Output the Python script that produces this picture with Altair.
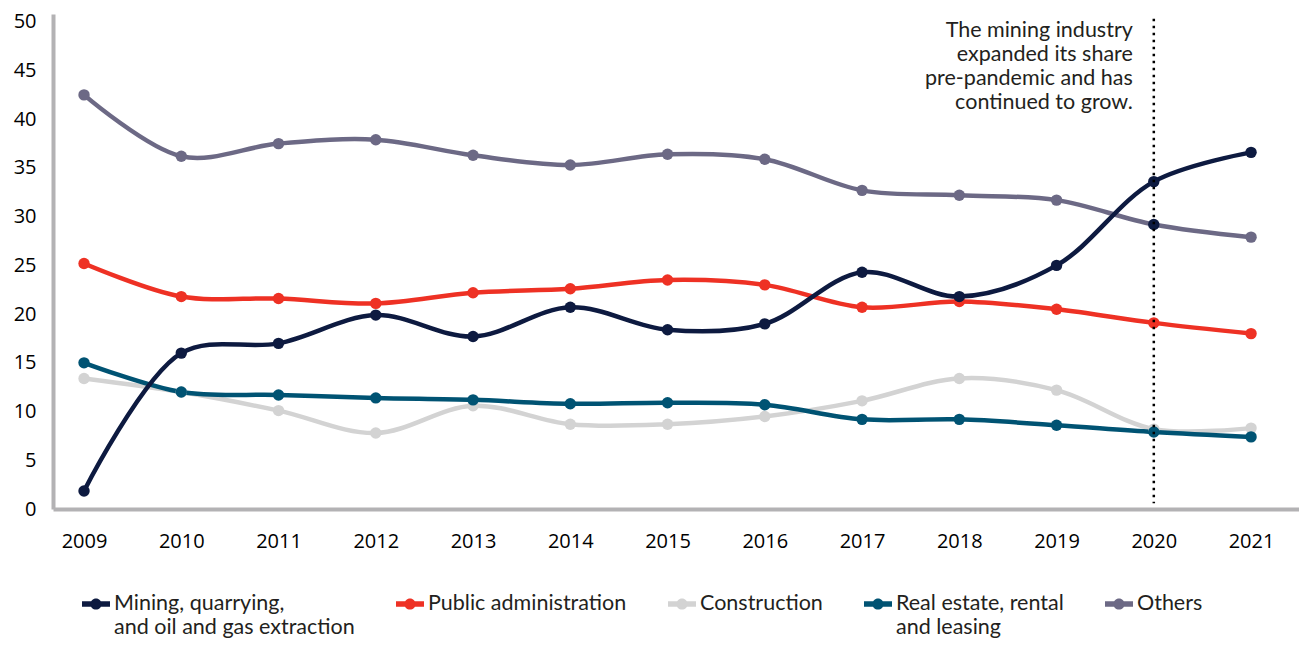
import altair as alt
import pandas as pd

years = list(range(2009, 2022))
series_names = [
    "Mining, quarrying, and oil and gas extraction",
    "Public administration",
    "Construction",
    "Real estate, rental and leasing",
    "Others",
]
series_colors = ["#0d1a40", "#ee3124", "#d3d3d3", "#005373", "#6c6985"]

mining = [1.85, 16.0, 17.0, 19.9, 17.7, 20.7, 18.4, 19.0, 24.3, 21.8, 25.0, 33.6, 36.6]
public_admin = [25.2, 21.8, 21.6, 21.1, 22.2, 22.6, 23.5, 23.0, 20.7, 21.3, 20.5, 19.1, 18.0]
construction = [13.4, 12.0, 10.1, 7.8, 10.6, 8.7, 8.7, 9.5, 11.1, 13.4, 12.2, 8.2, 8.3]
real_estate = [15.0, 12.0, 11.7, 11.4, 11.2, 10.8, 10.9, 10.7, 9.2, 9.2, 8.6, 7.9, 7.4]
others = [42.5, 36.2, 37.5, 37.9, 36.3, 35.3, 36.4, 35.9, 32.7, 32.2, 31.7, 29.2, 27.9]

y_ticks = list(range(0, 55, 5))
annot_year = [2020]
annot_top = [50.3]
annot_bottom = [0.6]
annot_text = ["The mining industry\nexpanded its share\npre-pandemic and has\ncontinued to grow."]

# draw order: back to front
draw_order = [
    ("Others", others),
    ("Construction", construction),
    ("Real estate, rental and leasing", real_estate),
    ("Public administration", public_admin),
    ("Mining, quarrying, and oil and gas extraction", mining),
]
rows = []
for name, vals in draw_order:
    for yr, v in zip(years, vals):
        rows.append({"series": name, "year": yr, "value": v})
df = pd.DataFrame(rows)

legend_path = (
    "M-1,-0.2 L1,-0.2 L1,0.2 L-1,0.2 Z "
    "M0.4,0 A0.4,0.4 0 1,1 -0.4,0 A0.4,0.4 0 1,1 0.4,0 Z"
)
label_expr = (
    "datum.label == 'Mining, quarrying, and oil and gas extraction' ? "
    "['Mining, quarrying,', 'and oil and gas extraction'] : "
    "datum.label == 'Real estate, rental and leasing' ? "
    "['Real estate, rental', 'and leasing'] : datum.label"
)

x_enc = alt.X(
    "year:Q",
    scale=alt.Scale(domain=[2008.681, 2021.493], nice=False, zero=False),
    axis=alt.Axis(values=years, format="d", title=None, labelPadding=22),
)
y_enc = alt.Y(
    "value:Q",
    scale=alt.Scale(domain=[0, 50.8], nice=False),
    axis=alt.Axis(values=y_ticks, title=None, labelPadding=17),
)
color_enc = alt.Color(
    "series:N",
    scale=alt.Scale(domain=series_names, range=series_colors),
    legend=alt.Legend(
        title=None,
        orient="none",
        legendX=29,
        legendY=576,
        direction="horizontal",
        columns=5,
        gridAlign="none",
        columnPadding=41,
        symbolType=legend_path,
        symbolSize=784,
        symbolStrokeWidth=0,
        labelFont="Lato",
        labelFontSize=21.5,
        labelColor="#231f20",
        labelLimit=400,
        labelOffset=4,
        labelBaseline="middle",
        labelExpr=label_expr,
    ),
)

base = alt.Chart(df).encode(x=x_enc, y=y_enc)

lines = base.mark_line(interpolate="catmull-rom", strokeWidth=4.5).encode(
    color=color_enc
)
points = base.mark_point(filled=True, size=130, opacity=1).encode(
    color=alt.condition(
        "datum.series == 'Others' && datum.year == 2020",
        alt.value("#0d1a40"),
        color_enc,
    )
)

annot_df = pd.DataFrame(
    {"year": annot_year, "top": annot_top, "bottom": annot_bottom, "text": annot_text}
)
rule = alt.Chart(annot_df).mark_rule(
    strokeDash=[2.5, 4.5], strokeWidth=2.5, color="#000000"
).encode(x="year:Q", y="top:Q", y2="bottom:Q")

text = alt.Chart(annot_df).mark_text(
    align="right",
    baseline="top",
    dx=-21,
    dy=1,
    fontSize=21.5,
    font="Lato",
    lineHeight=24,
    lineBreak="\n",
    color="#231f20",
).encode(x="year:Q", y=alt.Y("top:Q"), text="text:N")

chart = (
    alt.layer(lines, points, rule, text)
    .properties(
        width=1246,
        height=495,
        autosize=alt.AutoSizeParams(type="none"),
        padding={"left": 45, "top": 6, "right": 0, "bottom": 129},
    )
    .configure_view(stroke=None)
    .configure_axis(
        domainColor="#b3b2b4",
        domainWidth=4,
        ticks=False,
        grid=False,
        labelFont="Open Sans",
        labelFontSize=20,
        labelColor="#000000",
    )
)

chart.save("out.html", embed_options={"renderer": "svg", "actions": False})
